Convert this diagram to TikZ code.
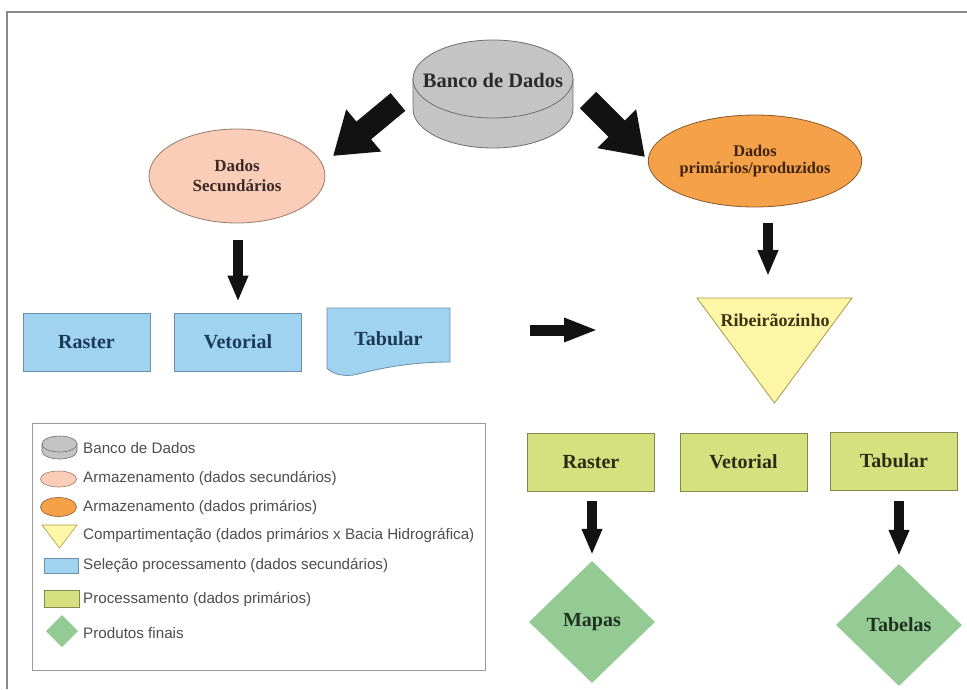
\documentclass[tikz,border=0pt]{standalone}
\usepackage{fontspec}
\setmainfont{Liberation Serif}
\newfontfamily\legfont{Liberation Sans}
\usetikzlibrary{shapes.geometric, arrows.meta}

\definecolor{cylfill}{HTML}{C4C4C4}
\definecolor{cylline}{HTML}{6E6E6E}
\definecolor{pinkfill}{HTML}{F9CDB7}
\definecolor{pinkline}{HTML}{9C7A6A}
\definecolor{orfill}{HTML}{F4A14A}
\definecolor{orline}{HTML}{8A5A2A}
\definecolor{bluefill}{HTML}{9FD3EF}
\definecolor{blueline}{HTML}{6A8FAA}
\definecolor{yelfill}{HTML}{FFF7A8}
\definecolor{yelline}{HTML}{A89A45}
\definecolor{grnfill}{HTML}{D5E07F}
\definecolor{grnline}{HTML}{85864E}
\definecolor{dmdfill}{HTML}{94CA94}
\definecolor{framecol}{HTML}{8A8A8A}
\definecolor{legline}{HTML}{9A9A9A}
\definecolor{legtext}{HTML}{4E4E4E}
\definecolor{arrowcol}{HTML}{121212}
\definecolor{bluetext}{HTML}{1D3B57}
\definecolor{grntext}{HTML}{2C2C14}
\definecolor{dmdtext}{HTML}{1F3320}
\definecolor{yeltext}{HTML}{3D3510}
\definecolor{pinktext}{HTML}{3B2A25}
\definecolor{ortext}{HTML}{3F2208}
\definecolor{cyltext}{HTML}{2B2B2B}

\begin{document}
\begin{tikzpicture}[x=1pt,y=-1pt,
  lbl/.style={font=\bfseries\fontsize{20}{22}\selectfont, inner sep=0pt},
  bluebox/.style={draw=blueline, fill=bluefill, line width=0.8pt, minimum width=127pt, minimum height=58pt, lbl, text=bluetext},
  grnbox/.style={draw=grnline, fill=grnfill, line width=0.8pt, minimum width=127pt, minimum height=58pt, lbl, text=grntext},
  dmd/.style={diamond, fill=dmdfill, minimum width=126pt, minimum height=122pt, lbl, text=dmdtext},
  bigarrow/.style={draw=arrowcol, line width=23pt, -{Triangle[length=40pt,width=52pt]}},
  medarrow/.style={draw=arrowcol, line width=11pt, -{Triangle[length=34pt,width=22pt]}},
  downarrow/.style={draw=arrowcol, line width=10pt, -{Triangle[length=26pt,width=19pt]}},
  legitem/.style={anchor=west, inner sep=0pt, text=legtext, font=\legfont\fontsize{15.2}{17}\selectfont}
]
\useasboundingbox (0,0) rectangle (967,689);
\fill[white] (0,0) rectangle (967,689);

% frame
\draw[framecol, line width=1.5pt] (967,12) -- (7,12) -- (7,689);

% database cylinder
\filldraw[fill=cylfill, draw=cylline, line width=0.8pt]
  (413,79) -- (413,109) arc[start angle=180, end angle=360, x radius=80, y radius=-39] -- (573,79) -- cycle;
\filldraw[fill=cylfill, draw=cylline, line width=0.8pt] (493,79) ellipse[x radius=80, y radius=39];
\node[lbl, text=cyltext, font=\bfseries\fontsize{20.5}{22}\selectfont] (db) at (493,80) {Banco de Dados};

% storage ellipses
\node[ellipse, draw=pinkline, fill=pinkfill, line width=0.8pt, minimum width=176pt, minimum height=94pt, inner sep=0pt,
  align=center, text=pinktext, font=\bfseries\fontsize{17}{20}\selectfont] (sec) at (237,176) {Dados\\Secundários};
\node[ellipse, draw=orline, fill=orfill, line width=0.8pt, minimum width=178pt, minimum height=92pt, inner sep=0pt,
  align=center, text=ortext, font=\bfseries\fontsize{16.3}{16.5}\selectfont] (pri) at (755,161) {Dados\\primários/produzidos};

% big diagonal arrows
\coordinate (dbl) at (398,102);
\coordinate (secin) at (333,156);
\coordinate (dbr) at (588,100);
\coordinate (priin) at (645,157);
\draw[bigarrow] (dbl) -- (secin);
\draw[bigarrow] (dbr) -- (priin);

% blue boxes
\node[bluebox] (rasb) at (86.5,342) {Raster};
\node[bluebox] (vetb) at (238,342) {Vetorial};
\filldraw[fill=bluefill, draw=blueline, line width=0.8pt]
  (327,308) -- (450,308) -- (450,362)
  .. controls (415,362) and (385,367) .. (358,374)
  .. controls (343,378) and (331,373) .. (327,368) -- cycle;
\node[lbl, text=bluetext] (tabb) at (388.5,339) {Tabular};

\draw[downarrow, shorten <=17pt, shorten >=11pt] (sec.south -| vetb.north) -- (vetb.north);

% horizontal arrow
\coordinate (h1) at (530,330);
\coordinate (h2) at (598,330);
\draw[medarrow] (h1) -- (h2);

% triangle
\filldraw[fill=yelfill, draw=yelline, line width=0.8pt] (697,298) -- (852,298) -- (774.5,403) -- cycle;
\node[lbl, text=yeltext, font=\bfseries\fontsize{18}{20}\selectfont] (rib) at (775,320) {Ribeirãozinho};
\coordinate (ptop) at (768,223);
\coordinate (ttop) at (768,276);
\draw[downarrow] (ptop) -- (ttop);

% green boxes
\node[grnbox] (rasg) at (591,462) {Raster};
\node[grnbox] (vetg) at (743.5,462) {Vetorial};
\node[grnbox] (tabg) at (894,461) {Tabular};

% diamonds
\node[dmd] (mapas) at (592,622) {Mapas};
\node[dmd] (tabelas) at (899,625) {Tabelas};

\draw[downarrow, shorten <=10pt, shorten >=6pt] (rasg.south -| mapas.north) -- (mapas.north);
\draw[downarrow, shorten <=11pt, shorten >=8pt] (tabg.south -| tabelas.north) -- (tabelas.north);

% legend
\node[draw=legline, line width=1pt, minimum width=453pt, minimum height=247pt, inner sep=0pt] (legend) at (258.5,546.5) {};
% icon: cylinder
\filldraw[fill=cylfill, draw=cylline, line width=0.6pt]
  (42,444) -- (42,451) arc[start angle=180, end angle=360, x radius=17.5, y radius=-8] -- (77,444) -- cycle;
\filldraw[fill=cylfill, draw=cylline, line width=0.6pt] (59.5,444) ellipse[x radius=17.5, y radius=8];
% icon: ellipses
\filldraw[fill=pinkfill, draw=pinkline, line width=0.6pt] (58.5,479) ellipse[x radius=18, y radius=8];
\filldraw[fill=orfill, draw=orline, line width=0.6pt] (58.5,507) ellipse[x radius=18, y radius=9.5];
% icon: triangle
\filldraw[fill=yelfill, draw=yelline, line width=0.6pt] (42,525) -- (77,525) -- (59.5,548) -- cycle;
% icon: rectangles
\filldraw[fill=bluefill, draw=blueline, line width=0.6pt] (44,558) rectangle (78,573);
\filldraw[fill=grnfill, draw=grnline, line width=0.6pt] (44,590) rectangle (79,607);
% icon: diamond
\fill[dmdfill] (62,615) -- (78,631) -- (62,647) -- (46,631) -- cycle;

\node[legitem] (l1) at (83,448) {Banco de Dados};
\node[legitem] (l2) at (83,478) {Armazenamento (dados secundários)};
\node[legitem] (l3) at (83,507) {Armazenamento (dados primários)};
\node[legitem] (l4) at (83,536) {Compartimentação (dados primários x Bacia Hidrográfica)};
\node[legitem] (l5) at (83,566) {Seleção processamento (dados secundários)};
\node[legitem] (l6) at (83,599) {Processamento (dados primários)};
\node[legitem] (l7) at (83,633) {Produtos finais};
\end{tikzpicture}
\end{document}
